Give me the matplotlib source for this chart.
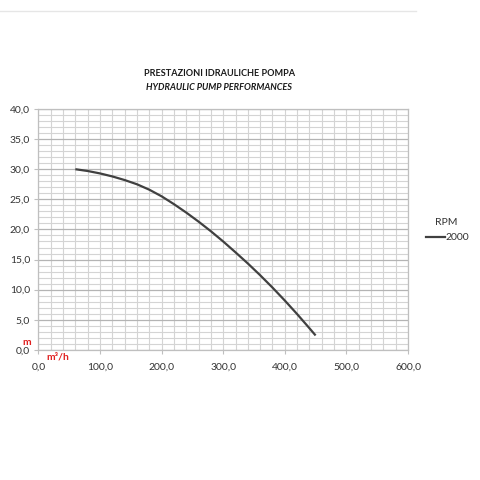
import matplotlib.pyplot as plt
from matplotlib.lines import Line2D

# pump curve at 2000 RPM
flow = [60, 80, 100, 120, 140, 160, 180, 200, 220, 240, 260, 280, 300,
        320, 340, 360, 380, 400, 420, 440, 450]
head = [30.0, 29.7, 29.3, 28.8, 28.2, 27.5, 26.6, 25.5, 24.2, 22.8, 21.3, 19.7, 18.0,
        16.2, 14.35, 12.4, 10.35, 8.2, 5.95, 3.6, 2.4]

x_ticks = [0, 100, 200, 300, 400, 500, 600]
x_labels = ['0,0', '100,0', '200,0', '300,0', '400,0', '500,0', '600,0']
y_ticks = [0, 5, 10, 15, 20, 25, 30, 35, 40]
y_labels = ['0,0', '5,0', '10,0', '15,0', '20,0', '25,0', '30,0', '35,0', '40,0']

plt.rcParams['font.family'] = ['Lato', 'DejaVu Sans']

fig = plt.figure(figsize=(4.8, 4.8), dpi=100)
ax = fig.add_axes([0.080, 0.271, 0.770, 0.502])

ax.plot(flow, head, color='#404040', lw=1.6, solid_capstyle='butt',
        solid_joinstyle='round')

ax.set_xlim(0, 600)
ax.set_ylim(0, 40)
ax.set_xticks(x_ticks)
ax.set_xticklabels(x_labels)
ax.set_yticks(y_ticks)
ax.set_yticklabels(y_labels)
ax.set_xticks(range(0, 601, 20), minor=True)
ax.set_yticks(range(0, 41, 1), minor=True)
ax.tick_params(axis='both', which='major', labelsize=7.5, colors='#bfbfbf',
               labelcolor='#333333', length=3, width=0.8)
ax.tick_params(axis='x', which='major', pad=6)
ax.tick_params(axis='y', which='major', pad=3)
ax.tick_params(which='minor', length=0)

ax.grid(which='minor', color='#d4d4d4', lw=0.8)
ax.grid(which='major', axis='y', color='#b4b4b4', lw=0.9)
ax.grid(which='major', axis='x', color='#d4d4d4', lw=0.8)
ax.set_axisbelow(True)
for s in ax.spines.values():
    s.set_color('#bfbfbf')
    s.set_linewidth(0.9)

# titles
fig.text(0.457, 0.847, 'PRESTAZIONI IDRAULICHE POMPA', ha='center', va='center',
         fontsize=6.6, fontweight='bold', color='#1a1a1a')
fig.text(0.457, 0.818, 'HYDRAULIC PUMP PERFORMANCES', ha='center', va='center',
         fontsize=6.6, fontweight='bold', style='italic', color='#1a1a1a')

# unit labels
fig.text(0.056, 0.286, 'm', ha='center', va='center', fontsize=7.5,
         fontweight='bold', color='#e02020')
fig.text(0.097, 0.257, 'm³/h', ha='left', va='center', fontsize=7.5,
         fontweight='bold', color='#e02020')

# legend
fig.text(0.929, 0.537, 'RPM', ha='center', va='center', fontsize=7.5, color='#333333')
fig.add_artist(Line2D([0.888, 0.927], [0.506, 0.506], color='#404040', lw=1.6))
fig.text(0.928, 0.506, '2000', ha='left', va='center', fontsize=7.5, color='#333333')

# thin rule along the top
fig.add_artist(Line2D([0.0, 0.866], [0.977, 0.977], color='#e6e6e6', lw=1.0))

fig.savefig('out.png', dpi=100, facecolor='white')
